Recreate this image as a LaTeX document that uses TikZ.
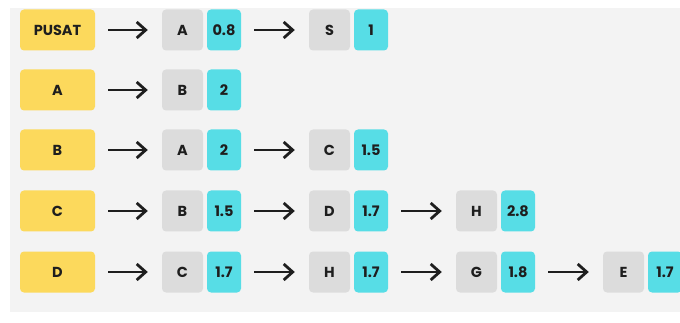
\documentclass[tikz,border=0pt]{standalone}
\usepackage{fontspec}
\setmainfont{Poppins}
\usetikzlibrary{arrows.meta}
\definecolor{bgc}{HTML}{F3F3F3}
\definecolor{yel}{HTML}{FCD95C}
\definecolor{gry}{HTML}{DCDCDC}
\definecolor{cya}{HTML}{57DDE6}
\definecolor{ink}{HTML}{1E1E1E}
\tikzset{
  box/.style={rounded corners=4pt, inner sep=0pt, minimum height=41pt, text=ink, font=\bfseries\fontsize{14.5}{14.5}\selectfont},
  headbox/.style={box, fill=yel, minimum width=75pt},
  keybox/.style={box, fill=gry, minimum width=41pt},
  valbox/.style={box, fill=cya, minimum width=34pt},
  arr/.style={draw=ink, line width=2.8pt, -{Straight Barb[length=9pt,width=16pt]}, shorten <=13pt, shorten >=14pt}
}
\begin{document}
\begin{tikzpicture}[x=1pt,y=-1pt]
\useasboundingbox (0,0) rectangle (680,323);
\fill[white] (0,0) rectangle (680,323);
\fill[bgc] (10,8) rectangle (690,312);
% row 1
\node[headbox] (h1) at (57.5,30) {PUSAT};
\node[keybox] (k11) at (182.5,30) {A};
\node[valbox] (v11) at (224,30) {0.8};
\node[keybox] (k12) at (329.5,30) {S};
\node[valbox] (v12) at (371,30) {1};
\draw[arr] (h1) -- (k11);
\draw[arr] (v11) -- (k12);
% row 2
\node[headbox] (h2) at (57.5,90) {A};
\node[keybox] (k21) at (182.5,90) {B};
\node[valbox] (v21) at (224,90) {2};
\draw[arr] (h2) -- (k21);
% row 3
\node[headbox] (h3) at (57.5,150) {B};
\node[keybox] (k31) at (182.5,150) {A};
\node[valbox] (v31) at (224,150) {2};
\node[keybox] (k32) at (329.5,150) {C};
\node[valbox] (v32) at (371,150) {1.5};
\draw[arr] (h3) -- (k31);
\draw[arr] (v31) -- (k32);
% row 4
\node[headbox] (h4) at (57.5,211) {C};
\node[keybox] (k41) at (182.5,211) {B};
\node[valbox] (v41) at (224,211) {1.5};
\node[keybox] (k42) at (329.5,211) {D};
\node[valbox] (v42) at (371,211) {1.7};
\node[keybox] (k43) at (476.5,211) {H};
\node[valbox] (v43) at (518,211) {2.8};
\draw[arr] (h4) -- (k41);
\draw[arr] (v41) -- (k42);
\draw[arr] (v42) -- (k43);
% row 5
\node[headbox] (h5) at (57.5,272) {D};
\node[keybox] (k51) at (182.5,272) {C};
\node[valbox] (v51) at (224,272) {1.7};
\node[keybox] (k52) at (329.5,272) {H};
\node[valbox] (v52) at (371,272) {1.7};
\node[keybox] (k53) at (476.5,272) {G};
\node[valbox] (v53) at (518,272) {1.8};
\node[keybox] (k54) at (623.5,272) {E};
\node[valbox] (v54) at (665,272) {1.7};
\draw[arr] (h5) -- (k51);
\draw[arr] (v51) -- (k52);
\draw[arr] (v52) -- (k53);
\draw[arr] (v53) -- (k54);
\end{tikzpicture}
\end{document}
